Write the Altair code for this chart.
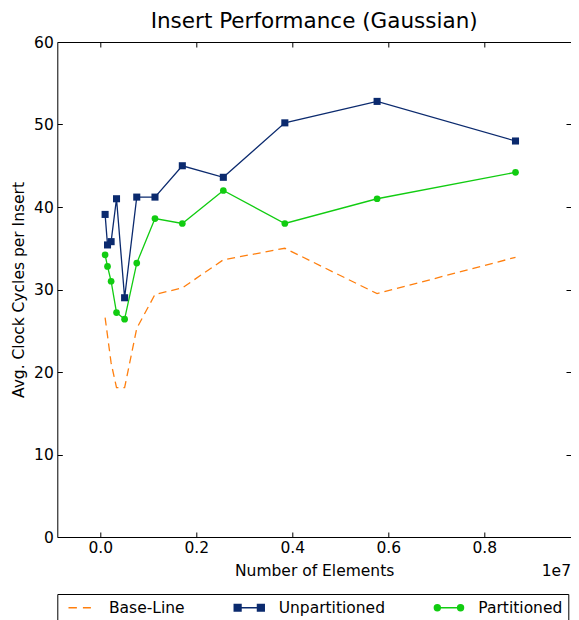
import altair as alt
import pandas as pd

# ---- data ----
n_elements = [100000, 150000, 225000, 337500, 506250, 759375, 1139000,
              1708600, 2562900, 3844300, 5766500, 8649800]
baseline = [26.6, 24.4, 21.1, 18.1, 18.1, 25.3, 29.4, 30.2, 33.6, 35.0, 29.5, 33.9]
unpartitioned = [39.1, 35.4, 35.8, 41.0, 29.0, 41.2, 41.2, 45.0, 43.6, 50.2, 52.8, 48.0]
partitioned = [34.2, 32.8, 31.0, 27.2, 26.4, 33.2, 38.6, 38.0, 42.0, 38.0, 41.0, 44.2]

series_names = ["Base-Line", "Unpartitioned", "Partitioned"]
series_colors = ["#ff7f0e", "#0b2a6e", "#11cc11"]
x_ticks = [0, 2000000, 4000000, 6000000, 8000000]
y_ticks = [0, 10, 20, 30, 40, 50, 60]
x_domain = [-896000, 9806000]
y_domain = [0, 60]
offset_label = ["1e7"]

# legend symbols (path units: 1 unit = 7 px)
sym_base = "M-1.58,0L-0.38,0M0.48,0L1.62,0"
sym_unpart = ("M-2.14,-0.48H-1.18V0.48H-2.14Z M-1.66,0H1.66 "
              "M1.18,-0.48H2.14V0.48H1.18Z")
sym_part = ("M-2.08,0A0.42,0.42 0 1,0 -1.24,0A0.42,0.42 0 1,0 -2.08,0Z "
            "M-1.66,0H1.66 M1.24,0A0.42,0.42 0 1,0 2.08,0A0.42,0.42 0 1,0 1.24,0Z")

FONT = "DejaVu Sans"
W, H = 513.7, 495

df = pd.DataFrame({"n": n_elements, "base": baseline,
                   "unpart": unpartitioned, "part": partitioned})

xs = alt.Scale(domain=x_domain, nice=False, zero=False)
ys = alt.Scale(domain=y_domain, nice=False, zero=False)

common = dict(grid=False, domain=False, tickSize=5, offset=-5, tickColor="black",
              tickWidth=1, labelFont=FONT, labelFontSize=15.5, labelColor="black",
              titleFont=FONT, titleFontSize=15.5, titleColor="black",
              titleFontWeight="normal", labelFlush=False, labelOverlap=False)

ax_bottom = alt.Axis(orient="bottom", values=x_ticks,
                     labelExpr="format(datum.value / 10000000, '.1f')",
                     labelPadding=3, title="Number of Elements", titlePadding=8,
                     **common)
ax_top = alt.Axis(orient="top", values=x_ticks, labels=False, title=None, **common)
ax_left = alt.Axis(orient="left", values=y_ticks, labelPadding=4,
                   title="Avg. Clock Cycles per Insert", titlePadding=7, **common)
ax_right = alt.Axis(orient="right", values=y_ticks, labels=False, title=None, **common)

base = alt.Chart(df)

base_line = base.mark_line(color=series_colors[0], strokeDash=[8, 5],
                           strokeWidth=1.3).encode(
    x=alt.X("n:Q", scale=xs, axis=ax_bottom),
    y=alt.Y("base:Q", scale=ys, axis=ax_left),
)

unpart_line = base.mark_line(color=series_colors[1], strokeWidth=1.3).encode(
    x=alt.X("n:Q", scale=xs, axis=ax_top),
    y=alt.Y("unpart:Q", scale=ys, axis=ax_right),
)
unpart_pts = base.mark_point(shape="square", filled=True, size=50, opacity=1,
                             color=series_colors[1]).encode(
    x=alt.X("n:Q", scale=xs, axis=None),
    y=alt.Y("unpart:Q", scale=ys, axis=None),
)

part_line = base.mark_line(color=series_colors[2], strokeWidth=1.3).encode(
    x=alt.X("n:Q", scale=xs, axis=None),
    y=alt.Y("part:Q", scale=ys, axis=None),
)
part_pts = base.mark_point(shape="circle", filled=True, size=45, opacity=1,
                           color=series_colors[2]).encode(
    x=alt.X("n:Q", scale=xs, axis=None),
    y=alt.Y("part:Q", scale=ys, axis=None),
)

leg = alt.Legend(orient="none", legendX=0, legendY=552, direction="horizontal",
                 columns=3, columnPadding=45.7, padding=5.5, strokeColor="black",
                 fillColor="white", cornerRadius=0, labelFont=FONT,
                 labelFontSize=15.5, labelColor="black", labelOffset=21.4,
                 symbolOffset=8.75, symbolSize=196, symbolStrokeWidth=1.5,
                 symbolOpacity=1)

leg_df = pd.DataFrame({"series": series_names})
legend_layer = alt.Chart(leg_df).transform_filter("false").mark_point(
    filled=True, opacity=1).encode(
    color=alt.Color("series:N", title=None, legend=leg,
                    scale=alt.Scale(domain=series_names, range=series_colors)),
    stroke=alt.Stroke("series:N", title=None, legend=leg,
                      scale=alt.Scale(domain=series_names, range=series_colors)),
    shape=alt.Shape("series:N", title=None, legend=leg,
                    scale=alt.Scale(domain=series_names,
                                    range=[sym_base, sym_unpart, sym_part])),
)

exp_text = alt.Chart(pd.DataFrame({"t": offset_label})).mark_text(
    align="right", baseline="middle", font=FONT, fontSize=15.5, color="black"
).encode(text="t:N", x=alt.value(W), y=alt.value(529))

chart = alt.layer(
    base_line, unpart_line, unpart_pts, part_line, part_pts, legend_layer, exp_text
).resolve_axis(x="independent", y="independent").properties(
    width=W, height=H,
    title=alt.TitleParams("Insert Performance (Gaussian)", font=FONT, fontSize=21.5,
                          fontWeight="normal", color="black", anchor="middle",
                          offset=2.5),
    autosize=alt.AutoSizeParams(type="none"),
    padding={"left": 49.3, "top": 34, "right": 0, "bottom": 83},
    background="white",
).configure_view(stroke="black", strokeWidth=1)

chart.save("out.html", embed_options={"renderer": "svg", "actions": False})
